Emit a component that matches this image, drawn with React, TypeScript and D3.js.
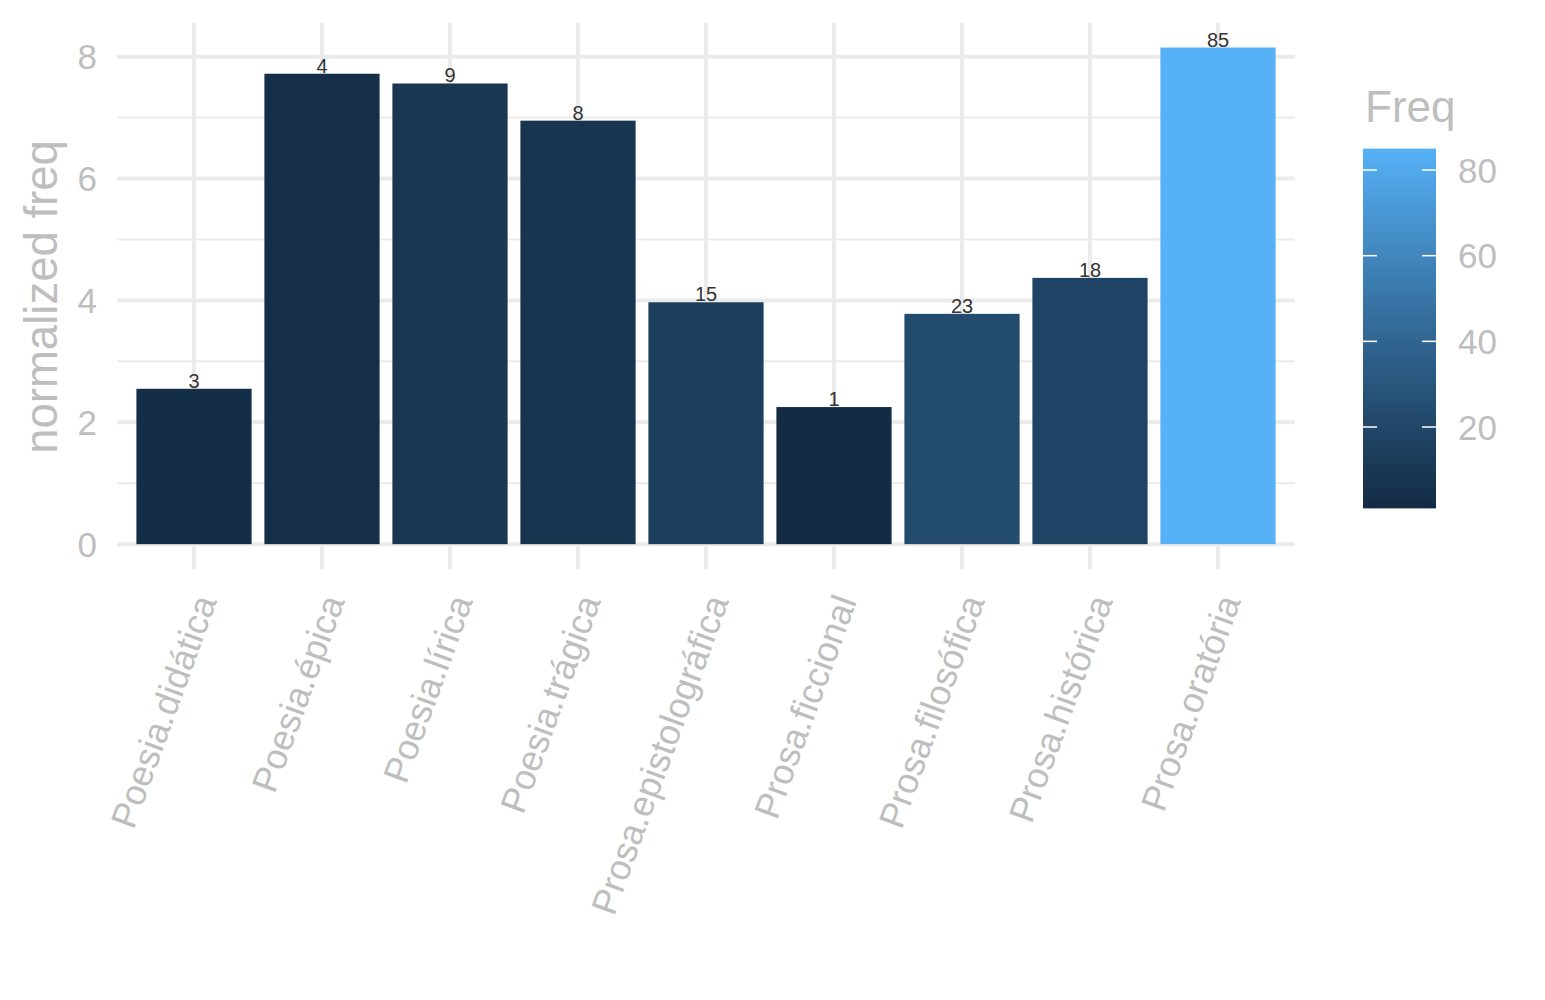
import * as d3 from "d3";

const CATEGORIES = [
    "Poesia.didática",
    "Poesia.épica",
    "Poesia.lírica",
    "Poesia.trágica",
    "Prosa.epistolográfica",
    "Prosa.ficcional",
    "Prosa.filosófica",
    "Prosa.histórica",
    "Prosa.oratória",
];
const NORM_FREQ = [2.55, 7.72, 7.56, 6.95, 3.97, 2.25, 3.78, 4.37, 8.15];
const FREQ = [3, 4, 9, 8, 15, 1, 23, 18, 85];
const Y_TICKS = [0, 2, 4, 6, 8];
const Y_MINOR = [1, 3, 5, 7];
const LEGEND_TICKS = [20, 40, 60, 80];

const W = 1545;
const H = 1000;
const PANEL = { left: 117.2, right: 1294.8, top: 22.7, bottom: 569 };
const BAR = { left: 1363, right: 1436, top: 148.6, bottom: 508.4 };
const TEXT_GREY = "#BEBEBE";
const GRID = "#EBEBEB";
const FONT = "'Liberation Sans', Arial, sans-serif";

export default function App() {
    const x = d3.scaleBand<string>().domain(CATEGORIES).range([PANEL.left, PANEL.right]).paddingInner(0.1).paddingOuter(0.15);

    // ggplot-style 5% expansion on the continuous axis
    const yMax = d3.max(NORM_FREQ) as number;
    const pad = yMax * 0.05;
    const y = d3.scaleLinear().domain([-pad, yMax + pad]).range([PANEL.bottom, PANEL.top]);

    const [fMin, fMax] = d3.extent(FREQ) as [number, number];
    const color = d3.scaleLinear<string>().domain([fMin, fMax]).range(["#132B43", "#56B1F7"]).interpolate(d3.interpolateLab);
    const legendY = d3.scaleLinear().domain([fMin, fMax]).range([BAR.bottom, BAR.top]);

    const stops = d3.range(0, 1.0001, 0.05);

    return (
        <svg width={W} height={H} style={{ position: "absolute", left: 0, top: 0, background: "#fff" }} fontFamily={FONT}>
            <defs>
                <linearGradient id="freqGrad" x1="0" y1="1" x2="0" y2="0">
                    {stops.map((s) => (
                        <stop key={s} offset={s} stopColor={color(fMin + s * (fMax - fMin))} />
                    ))}
                </linearGradient>
            </defs>

            {/* grid */}
            {Y_MINOR.map((v) => (
                <line key={"mi" + v} x1={PANEL.left} x2={PANEL.right} y1={y(v)} y2={y(v)} stroke={GRID} strokeWidth={2} />
            ))}
            {Y_TICKS.map((v) => (
                <line key={"ma" + v} x1={PANEL.left} x2={PANEL.right} y1={y(v)} y2={y(v)} stroke={GRID} strokeWidth={4} />
            ))}
            {CATEGORIES.map((c) => {
                const cx = (x(c) as number) + x.bandwidth() / 2;
                return <line key={"vg" + c} x1={cx} x2={cx} y1={PANEL.top} y2={PANEL.bottom} stroke={GRID} strokeWidth={4} />;
            })}

            {/* bars */}
            {CATEGORIES.map((c, i) => (
                <rect
                    key={"b" + c}
                    x={x(c)}
                    y={y(NORM_FREQ[i])}
                    width={x.bandwidth()}
                    height={y(0) - y(NORM_FREQ[i])}
                    fill={color(FREQ[i])}
                />
            ))}
            {CATEGORIES.map((c, i) => (
                <text
                    key={"l" + c}
                    x={(x(c) as number) + x.bandwidth() / 2}
                    y={y(NORM_FREQ[i]) - 1}
                    textAnchor="middle"
                    fontSize={20}
                    fill="#333"
                >
                    {FREQ[i]}
                </text>
            ))}

            {/* y axis */}
            {Y_TICKS.map((v) => (
                <text key={"yt" + v} x={97} y={y(v) + 12.5} textAnchor="end" fontSize={35} fill={TEXT_GREY}>
                    {v}
                </text>
            ))}
            <text transform={`translate(57,297) rotate(-90)`} textAnchor="middle" fontSize={45.5} fill={TEXT_GREY}>
                normalized freq
            </text>

            {/* x axis */}
            {CATEGORIES.map((c) => {
                const cx = (x(c) as number) + x.bandwidth() / 2;
                return (
                    <text key={"xt" + c} transform={`translate(${cx + 23},601) rotate(-70)`} textAnchor="end" fontSize={36} fill={TEXT_GREY}>
                        {c}
                    </text>
                );
            })}

            {/* legend */}
            <text x={1365} y={122} fontSize={44} fill={TEXT_GREY}>
                Freq
            </text>
            <rect x={BAR.left} y={BAR.top} width={BAR.right - BAR.left} height={BAR.bottom - BAR.top} fill="url(#freqGrad)" />
            {LEGEND_TICKS.map((v) => (
                <g key={"lg" + v}>
                    <line x1={BAR.left} x2={BAR.left + 14} y1={legendY(v)} y2={legendY(v)} stroke="#fff" strokeWidth={1.5} />
                    <line x1={BAR.right - 14} x2={BAR.right} y1={legendY(v)} y2={legendY(v)} stroke="#fff" strokeWidth={1.5} />
                    <text x={1458} y={legendY(v) + 12.5} fontSize={35} fill={TEXT_GREY}>
                        {v}
                    </text>
                </g>
            ))}
        </svg>
    );
}
